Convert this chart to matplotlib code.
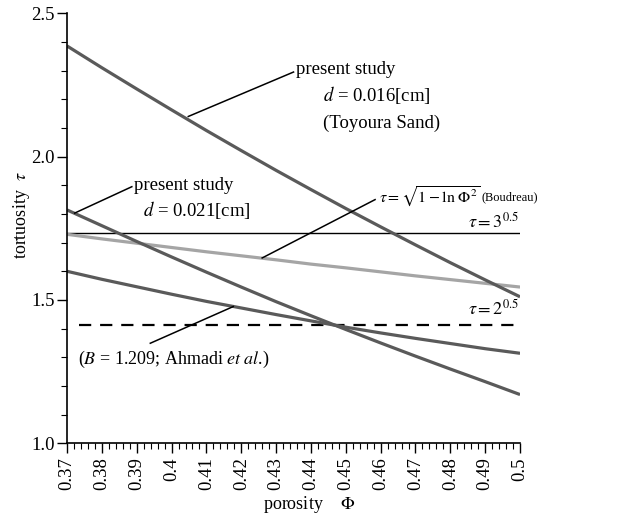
import numpy as np
import matplotlib.pyplot as plt
from matplotlib.ticker import MultipleLocator

plt.rcParams['font.family'] = ['Liberation Serif', 'DejaVu Serif']
plt.rcParams['mathtext.fontset'] = 'stix'

# porosity grid
phi = [0.37, 0.38, 0.39, 0.40, 0.41, 0.42, 0.43, 0.44, 0.45, 0.46, 0.47, 0.48, 0.49, 0.50]

# present study, d = 0.016 cm (Toyoura sand)
tau_d016 = [2.386, 2.310, 2.236, 2.163, 2.091, 2.021, 1.952, 1.885, 1.819, 1.755, 1.692, 1.630, 1.570, 1.511]
# present study, d = 0.021 cm
tau_d021 = [1.814, 1.759, 1.704, 1.650, 1.597, 1.545, 1.494, 1.445, 1.397, 1.350, 1.304, 1.259, 1.215, 1.170]
# Boudreau
tau_boud = [1.729, 1.713, 1.698, 1.683, 1.668, 1.654, 1.640, 1.625, 1.612, 1.598, 1.584, 1.571, 1.558, 1.545]
# Ahmadi et al., B = 1.209
tau_ahm = [1.600, 1.572, 1.546, 1.520, 1.495, 1.472, 1.449, 1.427, 1.405, 1.385, 1.366, 1.348, 1.330, 1.314]

tau_sqrt3 = 3 ** 0.5
tau_sqrt2 = 2 ** 0.5

xtick_vals = [0.37, 0.38, 0.39, 0.40, 0.41, 0.42, 0.43, 0.44, 0.45, 0.46, 0.47, 0.48, 0.49, 0.50]
xtick_labels = ['0.37', '0.38', '0.39', '0.4', '0.41', '0.42', '0.43', '0.44', '0.45',
                '0.46', '0.47', '0.48', '0.49', '0.5']

dark = '#5a5a5a'
light = '#a5a5a5'

fig = plt.figure(figsize=(6.24, 5.20), dpi=100)
ax = fig.add_axes([0.1074, 0.1475, 0.726, 0.827])

ax.plot([0.37, 0.50], [tau_sqrt3, tau_sqrt3], color='black', lw=1.0)
ax.plot([0.3735, 0.50], [tau_sqrt2, tau_sqrt2], color='black', lw=1.6, dashes=(5.5, 4))
ax.plot(phi, tau_boud, color=light, lw=2.3, solid_capstyle='butt')
ax.plot(phi, tau_ahm, color=dark, lw=2.3, solid_capstyle='butt')
ax.plot(phi, tau_d021, color=dark, lw=2.3, solid_capstyle='butt')
ax.plot(phi, tau_d016, color=dark, lw=2.3, solid_capstyle='butt')

fs = 13.5
# annotations with leader lines
ax.plot([0.4048, 0.4350], [2.140, 2.295], color='black', lw=1.1)
ax.text(0.4358, 2.305, 'present study', fontsize=fs, va='center', ha='left')
ax.text(0.4435, 2.215, r'$d$ = 0.016[cm]', fontsize=fs, va='center', ha='left')
ax.text(0.4435, 2.117, '(Toyoura Sand)', fontsize=fs, va='center', ha='left')

ax.plot([0.3722, 0.3886], [1.803, 1.895], color='black', lw=1.1)
ax.text(0.3893, 1.898, 'present study', fontsize=fs, va='center', ha='left')
ax.text(0.3918, 1.814, r'$d$ = 0.021[cm]', fontsize=fs, va='center', ha='left')

ax.plot([0.4260, 0.4584], [1.6465, 1.850], color='black', lw=1.1)
ax.text(0.4596, 1.858, r'$\tau=\sqrt{1-\ln\,\Phi^2}$', fontsize=11.5, va='center', ha='left')
ax.text(0.4890, 1.858, '(Boudreau)', fontsize=9, va='center', ha='left')

ax.text(0.4998, 1.772, r'$\tau=3^{0.5}$', fontsize=13, va='center', ha='right')
ax.text(0.4998, 1.468, r'$\tau=2^{0.5}$', fontsize=13, va='center', ha='right')

ax.plot([0.3939, 0.4177], [1.349, 1.477], color='black', lw=1.1)
ax.text(0.3732, 1.291, r'($B$ = 1.209; Ahmadi $et\ al$.)', fontsize=13, va='center', ha='left')

ax.set_xlim(0.37, 0.50)
ax.set_ylim(1.0, 2.5)
ax.set_xticks(xtick_vals)
ax.set_xticklabels(xtick_labels, rotation=90)
ax.xaxis.set_minor_locator(MultipleLocator(0.002))
ax.yaxis.set_major_locator(MultipleLocator(0.5))
ax.yaxis.set_minor_locator(MultipleLocator(0.1))
ax.yaxis.set_major_formatter(plt.FormatStrFormatter('%.1f'))

ax.tick_params(axis='both', which='major', direction='out', length=7, width=1.0,
               labelsize=13.5, colors='black')
ax.tick_params(axis='both', which='minor', direction='out', length=4, width=0.8)
ax.tick_params(axis='x', which='major', pad=3)
ax.tick_params(axis='y', which='major', pad=2)

for s in ['top', 'right']:
    ax.spines[s].set_visible(False)
for s in ['left', 'bottom']:
    ax.spines[s].set_linewidth(1.2)

ax.set_xlabel(r'porosity    $\Phi$', fontsize=13)
ax.xaxis.set_label_coords(0.535, -0.118)
ax.set_ylabel(r'tortuosity  $\tau$', fontsize=13)
ax.yaxis.set_label_coords(-0.078, 0.53)

fig.savefig('out.png', dpi=100)
